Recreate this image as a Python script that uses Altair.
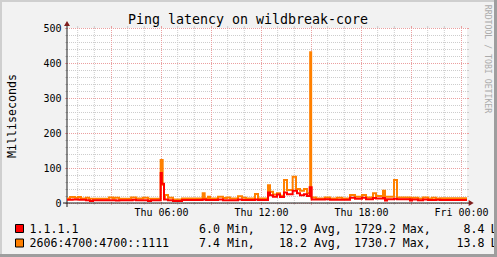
import altair as alt
import pandas as pd

FONT = "DejaVu Sans Mono"

chart_title = "Ping latency on wildbreak-core"
y_axis_title = "Milliseconds"
watermark = "RRDTOOL / TOBI OETIKER"

# axes (hours since Thu 00:00, milliseconds)
x_domain = [0.36, 24.36]
y_domain = [0, 500]
x_label_hours = [6, 12, 18, 24]
x_label_texts = ["Thu 06:00", "Thu 12:00", "Thu 18:00", "Fri 00:00"]
x_major_hours = [3, 6, 9, 12, 15, 18, 21, 24]
x_minor_hours = [1, 2, 4, 5, 7, 8, 10, 11, 13, 14, 16, 17, 19, 20, 22, 23]
y_major_values = [0, 100, 200, 300, 400, 500]
y_minor_values = [20, 40, 60, 80, 120, 140, 160, 180, 220, 240, 260, 280,
                  320, 340, 360, 380, 420, 440, 460, 480]

# series: change points (hour) and value held until the next change
orange_hours = [0.36, 0.54, 0.84, 1.02, 1.20, 1.50, 1.68, 2.88, 3.12, 3.21, 3.48, 4.20,
                4.50, 4.92, 5.22, 5.98, 6.10, 6.18, 6.24, 6.42, 6.72, 7.26, 8.50, 8.62,
                8.82, 8.94, 9.42, 9.72, 9.96, 10.14, 10.62, 10.86, 11.10, 11.64, 11.82,
                12.42, 12.54, 12.72, 12.96, 13.14, 13.38, 13.56, 13.90, 14.10, 14.34,
                14.58, 14.76, 14.95, 15.01, 15.30, 15.84, 16.14, 16.56, 16.86, 17.34,
                17.64, 18.06, 18.30, 18.72, 18.90, 19.32, 19.44, 19.98, 20.16, 20.94,
                21.06, 21.42, 21.72, 22.02, 22.26, 22.50, 22.74, 24.36]
orange_ms = [13, 17, 15, 17, 13, 15, 12, 16, 13, 15, 12, 16,
             13, 15, 12, 123, 52, 13, 23, 15, 10, 13, 28, 13,
             18, 13, 18, 14, 16, 13, 19, 15, 13, 26, 13,
             51, 32, 24, 28, 21, 66, 37, 75, 40, 35,
             40, 28, 431, 16, 13, 16, 13, 15, 13, 23,
             18, 23, 16, 28, 20, 35, 18, 66, 16, 11,
             15, 13, 16, 13, 15, 13, 13.8, 13.8]
red_hours = [0.36, 0.70, 1.10, 1.50, 1.74, 1.92, 3.30, 3.50, 4.30, 4.50, 5.22, 5.40,
             5.98, 6.05, 6.18, 6.42, 6.72, 7.26, 8.50, 8.70, 9.42, 9.72, 10.62, 10.86,
             11.64, 11.82, 12.42, 12.54, 12.72, 12.96, 13.14, 13.38, 13.56, 13.90,
             14.16, 14.34, 14.58, 14.76, 14.92, 15.04, 15.84, 16.14, 17.34, 17.64,
             18.06, 18.30, 18.72, 18.90, 19.32, 19.44, 19.56, 19.98, 20.16, 20.94,
             21.06, 21.42, 21.72, 22.02, 22.50, 22.74, 24.36]
red_ms = [9, 10, 9, 8, 6, 8, 7, 8, 9, 8, 6, 8,
          86, 55, 10, 8, 6, 8.5, 10, 8.5, 10, 8, 10, 8.5,
          10, 8.5, 30, 22, 18, 24, 17, 30, 25, 35,
          28, 22, 25, 20, 45, 10, 11, 9, 15, 12,
          15, 11, 14, 13, 14, 7, 11, 12, 11, 7,
          10, 8, 10, 8.5, 9, 8.4, 8.4]

# legend
series_names = ["1.1.1.1", "2606:4700:4700::1111"]
series_colors = ["#FF0000", "#FF8000"]
stat_min = [6.0, 7.4]
stat_avg = [12.9, 18.2]
stat_max = [1729.2, 1730.7]
stat_last = [8.4, 13.8]

GRID = "#CDCDCD"
MGRID = "#EBA0A0"
AXIS = "#1F1F1F"
ARROW = "#801F1F"
SHADE_A = "#CFCFCF"
SHADE_B = "#9E9E9E"
BACK = "#F2F2F2"

one = pd.DataFrame({"k": [0]})
xs = alt.Scale(domain=x_domain, nice=False, zero=False)
ys = alt.Scale(domain=y_domain, nice=False, zero=False)

label_expr = " : ".join(f"datum.value == {h} ? '{t}'" for h, t in zip(x_label_hours, x_label_texts)) + " : ''"
x_axis = alt.Axis(values=x_label_hours, labelExpr=label_expr, title=None, ticks=False,
                  domain=False, grid=False, labelFont=FONT, labelFontSize=10,
                  labelColor="#000000", labelPadding=12, labelBaseline="alphabetic",
                  labelFlush=False, labelOverlap=False, labelAngle=0)
y_axis = alt.Axis(values=y_major_values, title=y_axis_title, ticks=False, domain=False,
                  grid=False, labelFont=FONT, labelFontSize=10, labelColor="#000000",
                  labelPadding=6, labelFlush=False, labelOverlap=False,
                  titleFont=FONT, titleFontSize=11.6, titleFontWeight="normal",
                  titleColor="#000000", titleX=-51.7, titleY=87.5, titleAngle=-90,
                  titleAlign="center", titleBaseline="alphabetic")

layers = []


def vgrid(hours, color, offset):
    d = pd.DataFrame({"h": hours})
    base = alt.Chart(d)
    return [
        base.mark_rule(color=color, strokeWidth=1, strokeDash=[1, 1], xOffset=offset).encode(
            x=alt.X("h:Q", scale=xs, axis=x_axis), y=alt.value(0), y2=alt.value(175)),
        base.mark_rule(color=color, strokeWidth=1, xOffset=offset).encode(
            x=alt.X("h:Q", scale=xs, axis=x_axis), y=alt.value(175), y2=alt.value(177)),
        base.mark_rule(color=color, strokeWidth=1, xOffset=offset).encode(
            x=alt.X("h:Q", scale=xs, axis=x_axis), y=alt.value(-2), y2=alt.value(0)),
    ]


def hgrid(vals, color):
    d = pd.DataFrame({"v": vals})
    base = alt.Chart(d)
    return [
        base.mark_rule(color=color, strokeWidth=1, strokeDash=[1, 1], yOffset=0.5).encode(
            y=alt.Y("v:Q", scale=ys, axis=y_axis), x=alt.value(0), x2=alt.value(400)),
        base.mark_rule(color=color, strokeWidth=1, yOffset=0.5).encode(
            y=alt.Y("v:Q", scale=ys, axis=y_axis), x=alt.value(-2), x2=alt.value(0)),
        base.mark_rule(color=color, strokeWidth=1, yOffset=0.5).encode(
            y=alt.Y("v:Q", scale=ys, axis=y_axis), x=alt.value(400), x2=alt.value(402)),
    ]


layers += vgrid(x_minor_hours, GRID, 0)
layers += hgrid(y_minor_values, GRID)
layers += vgrid(x_major_hours, MGRID, 0.5)
layers += hgrid(y_major_values, MGRID)

# axis lines and arrows
layers.append(alt.Chart(one).mark_rule(color=AXIS, strokeWidth=1).encode(
    x=alt.value(-4), x2=alt.value(404), y=alt.value(175)))
layers.append(alt.Chart(one).mark_rule(color=AXIS, strokeWidth=1).encode(
    x=alt.value(0), y=alt.value(179), y2=alt.value(-4)))
layers.append(alt.Chart(one).mark_point(shape="M-0.83,-1L0.83,0L-0.83,1Z", filled=True,
                                        size=36, color=ARROW, opacity=1).encode(
    x=alt.value(404.2), y=alt.value(175)))
layers.append(alt.Chart(one).mark_point(shape="M-1,0.83L0,-0.83L1,0.83Z", filled=True,
                                        size=36, color=ARROW, opacity=1).encode(
    x=alt.value(0), y=alt.value(-4.5)))

# series lines (orange below, red on top)
orange_df = pd.DataFrame({"h": orange_hours, "ms": orange_ms})
red_df = pd.DataFrame({"h": red_hours, "ms": red_ms})
for d, c in [(orange_df, series_colors[1]), (red_df, series_colors[0])]:
    layers.append(alt.Chart(d).mark_line(interpolate="step-after", strokeWidth=2, color=c).encode(
        x=alt.X("h:Q", scale=xs, axis=x_axis), y=alt.Y("ms:Q", scale=ys, axis=y_axis)))

# title and watermark
layers.append(alt.Chart(pd.DataFrame({"t": [chart_title]})).mark_text(
    font=FONT, fontSize=13.3, color="#000000", align="center", baseline="alphabetic").encode(
    text="t:N", x=alt.value(181), y=alt.value(-4.5)))
layers.append(alt.Chart(pd.DataFrame({"t": [watermark]})).mark_text(
    font=FONT, fontSize=8.2, color="#ABABAB", align="center", baseline="middle", angle=90).encode(
    text="t:N", x=alt.value(420.3), y=alt.value(31)))

# legend
row_base = [204.5, 219]
for i in range(len(series_names)):
    yb = row_base[i]
    layers.append(alt.Chart(one).mark_rect(color=series_colors[i], stroke="#000000", strokeWidth=1).encode(
        x=alt.value(-51.5), x2=alt.value(-43.5), y=alt.value(yb - 8), y2=alt.value(yb)))
    cols = [
        (series_names[i], -37.5, "left"),
        (f"{stat_min[i]:.1f} Min,", 132, "left"),
        (f"{stat_avg[i]:.1f} Avg,", 212, "left"),
        (f"{stat_max[i]:.1f} Max,", 287, "left"),
        (f"{stat_last[i]:.1f}", 417.5, "right"),
        ("Last", 423.5, "left"),
    ]
    for txt, xp, al in cols:
        layers.append(alt.Chart(pd.DataFrame({"t": [txt]})).mark_text(
            font=FONT, fontSize=11.6, color="#000000", align=al, baseline="alphabetic").encode(
            text="t:N", x=alt.value(xp), y=alt.value(yb)))

# frame shading
layers.append(alt.Chart(one).mark_rule(color=SHADE_A, strokeWidth=2).encode(
    x=alt.value(-67), x2=alt.value(430), y=alt.value(-27)))
layers.append(alt.Chart(one).mark_rule(color=SHADE_A, strokeWidth=2).encode(
    x=alt.value(-66), y=alt.value(-28), y2=alt.value(229)))
layers.append(alt.Chart(one).mark_rule(color=SHADE_B, strokeWidth=3).encode(
    x=alt.value(428.5), y=alt.value(-28), y2=alt.value(229)))
layers.append(alt.Chart(one).mark_rule(color=SHADE_B, strokeWidth=3).encode(
    x=alt.value(-67), x2=alt.value(430), y=alt.value(227.5)))

chart = alt.layer(*layers).properties(
    width=400, height=175,
    padding={"left": 67, "top": 28, "right": 30, "bottom": 54},
    autosize=alt.AutoSizeParams(type="none"),
    background=BACK,
).configure_view(stroke=None, fill="#FFFFFF")

chart.save("out.html", embed_options={"renderer": "svg", "actions": False})
